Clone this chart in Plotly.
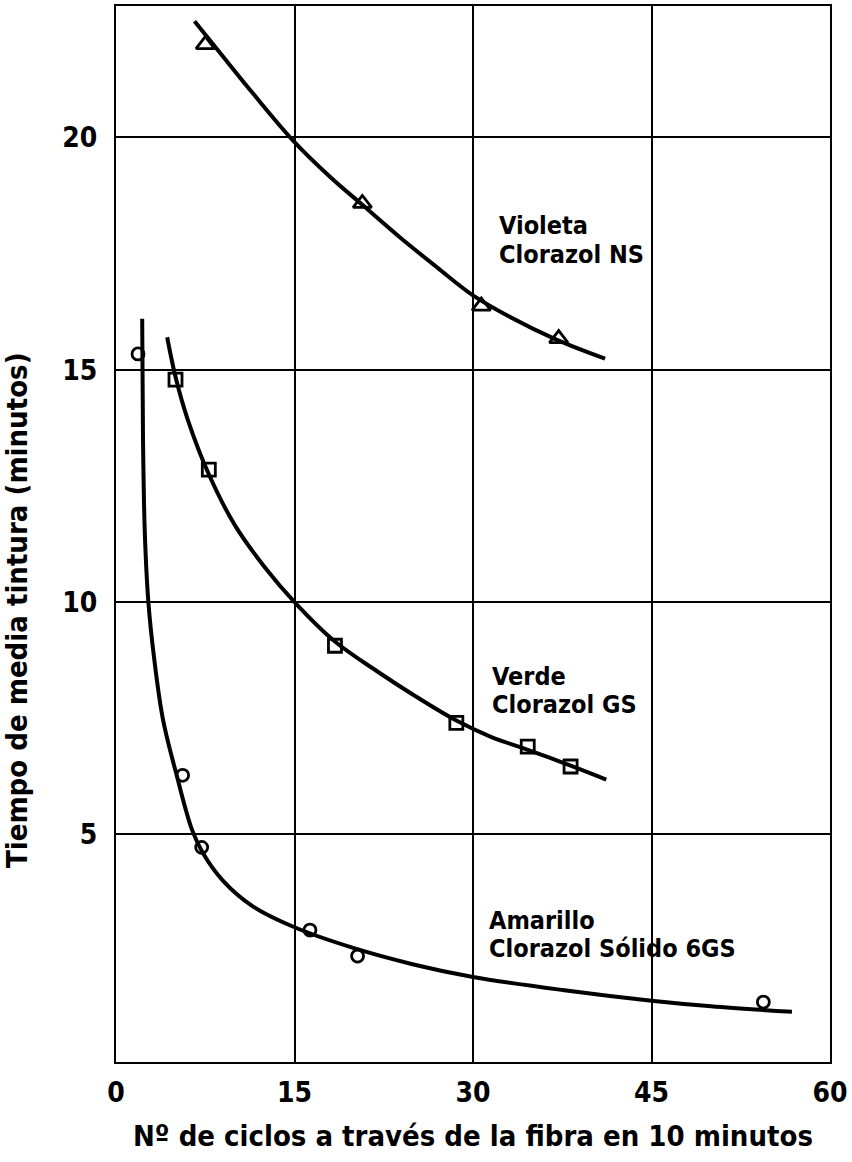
import plotly.graph_objects as go

# ---- data ----
violeta_x = [7.5, 20.7, 30.7, 37.2]
violeta_y = [22.0, 18.58, 16.37, 15.67]
violeta_curve_x = [6.6, 8.5, 11.5, 15.0, 18.0, 20.7, 24.0, 27.0, 30.0, 33.0, 37.0, 41.1]
violeta_curve_y = [22.5, 21.9, 20.95, 19.9, 19.15, 18.55, 17.82, 17.2, 16.6, 16.15, 15.65, 15.24]

verde_x = [5.0, 7.8, 18.4, 28.6, 34.6, 38.2]
verde_y = [14.79, 12.85, 9.06, 7.4, 6.89, 6.46]
verde_curve_x = [4.3, 5.0, 6.0, 7.8, 10.0, 12.5, 15.0, 18.4, 22.0, 25.0, 28.6, 31.5, 34.6, 38.2, 41.2]
verde_curve_y = [15.7, 14.85, 13.95, 12.75, 11.65, 10.75, 10.0, 9.15, 8.5, 8.0, 7.45, 7.1, 6.82, 6.48, 6.18]

amarillo_x = [1.85, 5.6, 7.2, 16.3, 20.3, 54.4]
amarillo_y = [15.34, 6.27, 4.72, 2.94, 2.38, 1.39]
amarillo_curve_x = [2.2, 2.27, 2.42, 2.72, 3.2, 3.95, 5.1, 6.4, 7.3, 9.0, 11.5, 15.0, 20.0, 25.0, 30.0, 37.5, 45.0, 50.0, 56.8]
amarillo_curve_y = [16.1, 13.5, 11.5, 10.0, 8.8, 7.47, 6.27, 5.09, 4.6, 4.0, 3.45, 3.0, 2.55, 2.2, 1.93, 1.65, 1.42, 1.3, 1.18]

x_ticks = [0, 15, 30, 45, 60]
y_ticks = [5, 10, 15, 20]

label_lines = [("Violeta", "Clorazol NS"), ("Verde", "Clorazol GS"), ("Amarillo", "Clorazol Sólido 6GS")]
label_x = [32.0, 31.4, 31.2]
label_y1 = [18.11, 8.39, 3.15]
label_y2 = [17.49, 7.79, 2.55]

x_title = "Nº de ciclos a través de la fibra en 10 minutos"
y_title = "Tiempo de media tintura (minutos)"

FONT = "DejaVu Sans Condensed, Liberation Sans Narrow, sans-serif"

fig = go.Figure()

for cx, cy in [(violeta_curve_x, violeta_curve_y), (verde_curve_x, verde_curve_y),
               (amarillo_curve_x, amarillo_curve_y)]:
    fig.add_trace(go.Scatter(x=cx, y=cy, mode="lines",
                             line=dict(color="black", width=4, shape="spline", smoothing=1.0),
                             showlegend=False, hoverinfo="skip"))

for px, py, sym, sz in [(violeta_x, violeta_y, "triangle-up-open", 16),
                        (verde_x, verde_y, "square-open", 13),
                        (amarillo_x, amarillo_y, "circle-open", 12)]:
    fig.add_trace(go.Scatter(x=px, y=py, mode="markers",
                             marker=dict(symbol=sym, size=sz, color="black",
                                         line=dict(color="black", width=2.8)),
                             showlegend=False))

for (l1, l2), lx, y1, y2 in zip(label_lines, label_x, label_y1, label_y2):
    for t, ly in [(l1, y1), (l2, y2)]:
        fig.add_annotation(x=lx, y=ly, xref="x", yref="y", text=t, showarrow=False,
                           xanchor="left", yanchor="middle", align="left",
                           font=dict(family=FONT, size=25, color="black", weight="bold"))

# y-axis title placed as a rotated annotation (it sits below the plot centre in the original)
fig.add_annotation(x=0, y=0.428, xref="paper", yref="paper", xshift=-99, text=y_title,
                   showarrow=False, textangle=-90, xanchor="center", yanchor="middle",
                   font=dict(family=FONT, size=29, color="black", weight="bold"))

fig.update_xaxes(range=[0, 60], tickvals=x_ticks, ticktext=[str(v) for v in x_ticks],
                 showgrid=True, gridcolor="black", gridwidth=1.5, zeroline=False,
                 showline=True, linecolor="black", linewidth=2, mirror=True,
                 ticks="", ticklabelstandoff=4,
                 tickfont=dict(family=FONT, size=28, color="black", weight="bold"),
                 title=dict(text=x_title,
                            font=dict(family=FONT, size=29, color="black", weight="bold"), standoff=18))
fig.update_yaxes(range=[0.1, 22.83], tickvals=y_ticks, ticktext=[str(v) for v in y_ticks],
                 showgrid=True, gridcolor="black", gridwidth=1.5, zeroline=False,
                 showline=True, linecolor="black", linewidth=2, mirror=True,
                 ticks="", ticklabelstandoff=11,
                 tickfont=dict(family=FONT, size=28, color="black", weight="bold"))

fig.update_layout(width=852, height=1162, plot_bgcolor="white", paper_bgcolor="white",
                  margin=dict(l=116, r=21, t=4, b=100), showlegend=False)

fig.write_html("out.html")
